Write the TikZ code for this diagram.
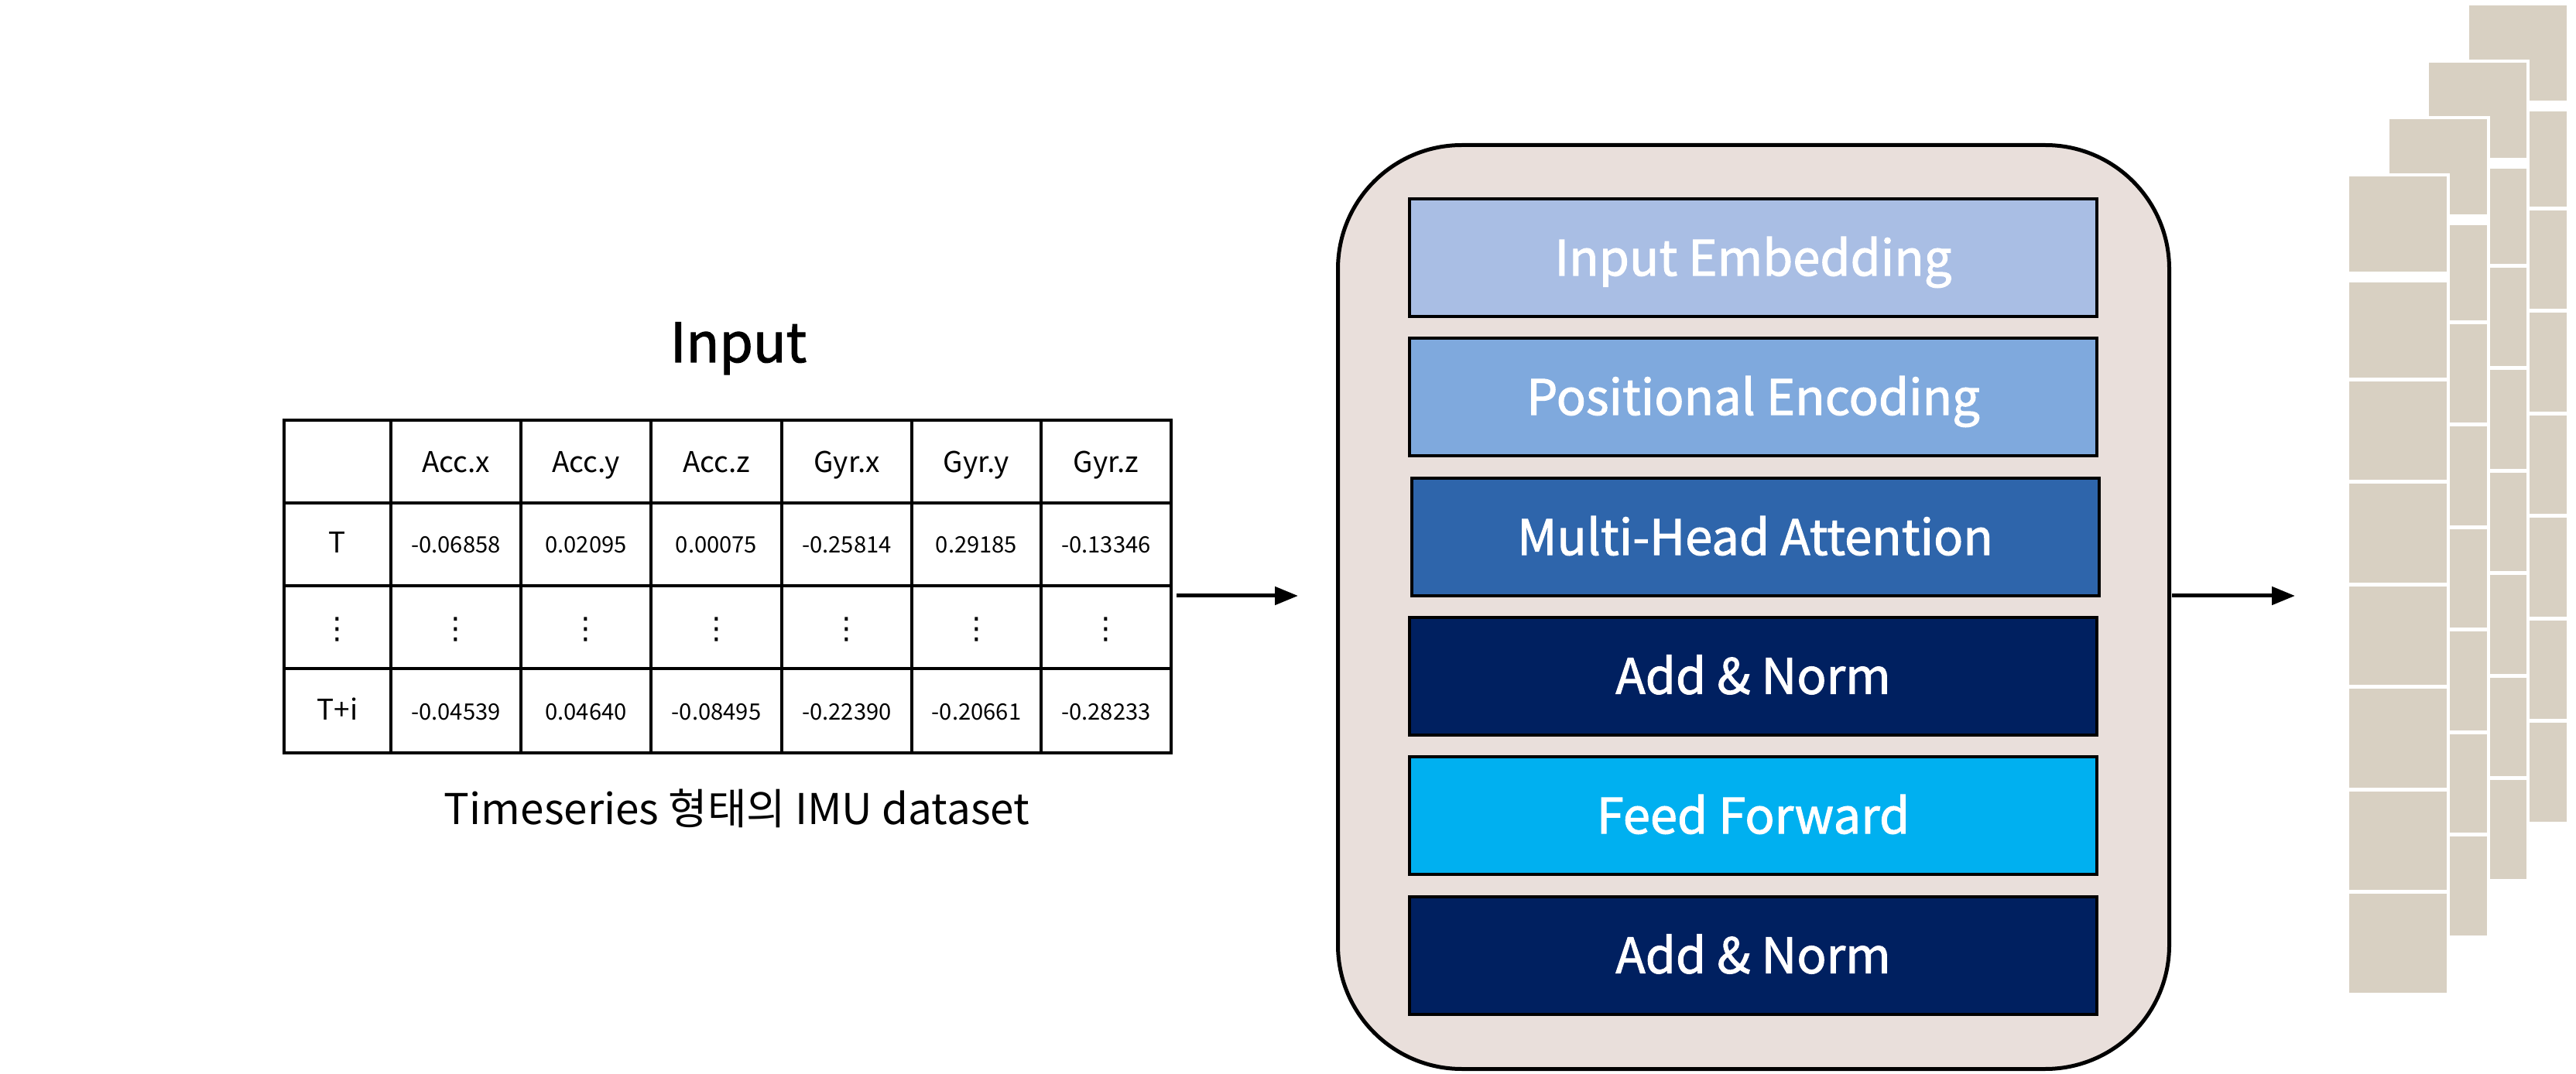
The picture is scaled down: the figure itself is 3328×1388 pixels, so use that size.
\documentclass[tikz,border=0pt]{standalone}
\usepackage{fontspec}
\setmainfont{Noto Sans CJK KR}
\newfontfamily\blockfont[FakeBold=1.6]{Noto Sans CJK KR}
\newfontfamily\dotfont{DejaVu Sans}
\usetikzlibrary{arrows.meta}
\definecolor{encfill}{RGB}{233,223,219}
\definecolor{embc}{RGB}{169,190,228}
\definecolor{posc}{RGB}{127,169,221}
\definecolor{mhac}{RGB}{46,101,171}
\definecolor{normc}{RGB}{0,32,96}
\definecolor{ffc}{RGB}{0,176,240}
\definecolor{cellc}{RGB}{216,208,194}

\begin{document}
\begin{tikzpicture}[x=0.1mm, y=-0.1mm,
	encbox/.style={draw=black, line width=0.5mm, fill=encfill, rounded corners=16mm, minimum width=107.4mm, minimum height=119.4mm},
	blockbox/.style={draw=black, line width=0.4mm, minimum width=88.8mm, minimum height=15.2mm, text=white, text height=13.2pt, text depth=0pt, font=\blockfont\fontsize{18}{20}\selectfont},
	flow/.style={line width=0.5mm, -{Triangle[length=3mm, width=2.3mm]}},
	tblline/.style={line width=0.35mm},
	headtxt/.style={anchor=base, inner sep=0.5mm, font=\fontsize{10.5}{12}\selectfont},
	numtxt/.style={anchor=base, inner sep=0.5mm, font=\fontsize{8.3}{10}\selectfont},
	dottxt/.style={anchor=base, inner sep=0.5mm, font=\dotfont\fontsize{11}{12}\selectfont}]
	\fill[white] (0,0) rectangle (3328,1388);
	\node[anchor=base, font=\blockfont\fontsize{20}{24}\selectfont] (inlbl) at (954,468) {Input};
	\draw[tblline] (367,543) rectangle (1513,973);
	\foreach \y in {650,757,864} \draw[tblline] (367,\y) -- (1513,\y);
	\foreach \x in {505,673,841,1010,1178,1345} \draw[tblline] (\x,543) -- (\x,973);
	\node[headtxt] (rT) at (436,715) {T};
	\node[dottxt] (rdots) at (436,826) {⋮};
	\node[headtxt] (rTi) at (436,930) {T+i};
	\foreach \cx/\hd/\va/\vb [count=\i] in {589/Acc.x/-0.06858/-0.04539, 757/Acc.y/0.02095/0.04640, 925.5/Acc.z/0.00075/-0.08495, 1094/Gyr.x/-0.25814/-0.22390, 1261.5/Gyr.y/0.29185/-0.20661, 1429/Gyr.z/-0.13346/-0.28233} {
		\node[headtxt] (hd\i) at (\cx,611) {\hd};
		\node[numtxt] (va\i) at (\cx,715) {\va};
		\node[dottxt] (dt\i) at (\cx,826) {⋮};
		\node[numtxt] (vb\i) at (\cx,930) {\vb};
	}
	\node[anchor=base, font=\fontsize{15.6}{18}\selectfont] (datacap) at (952,1065) {Timeseries 형태의 IMU dataset};
	\node[encbox] (enc) at (2265.5,784.5) {};
	\node[blockbox, fill=embc] (emb) at (2265,333) {Input Embedding};
	\node[blockbox, fill=posc] (pos) at (2265,513) {Positional Encoding};
	\node[blockbox, fill=mhac] (mha) at (2267.5,694) {Multi-Head Attention};
	\node[blockbox, fill=normc] (normA) at (2265,873.5) {Add \& Norm};
	\node[blockbox, fill=ffc] (ff) at (2265,1054) {Feed Forward};
	\node[blockbox, fill=normc] (normB) at (2265,1234.5) {Add \& Norm};
	\foreach \k in {3,2,1,0} {
		\begin{scope}[shift={(51.7*\k,-73.7*\k)}]
			\fill[white] (3031,224) rectangle (3165,1287);
			\foreach \a/\b in {0/123,137/260,265/392,397/525,530/657,662/790,795/922,927/1055}
				\fill[cellc] (3035,228+\a) rectangle (3161,228+\b);
		\end{scope}
	}
	\coordinate (tblR) at (1520,770);
	\coordinate (encL) at (1677,770);
	\coordinate (encR) at (2806,770);
	\coordinate (stackL) at (2965,770);
	\draw[flow] (tblR) -- (encL);
	\draw[flow] (encR) -- (stackL);
\end{tikzpicture}
\end{document}
